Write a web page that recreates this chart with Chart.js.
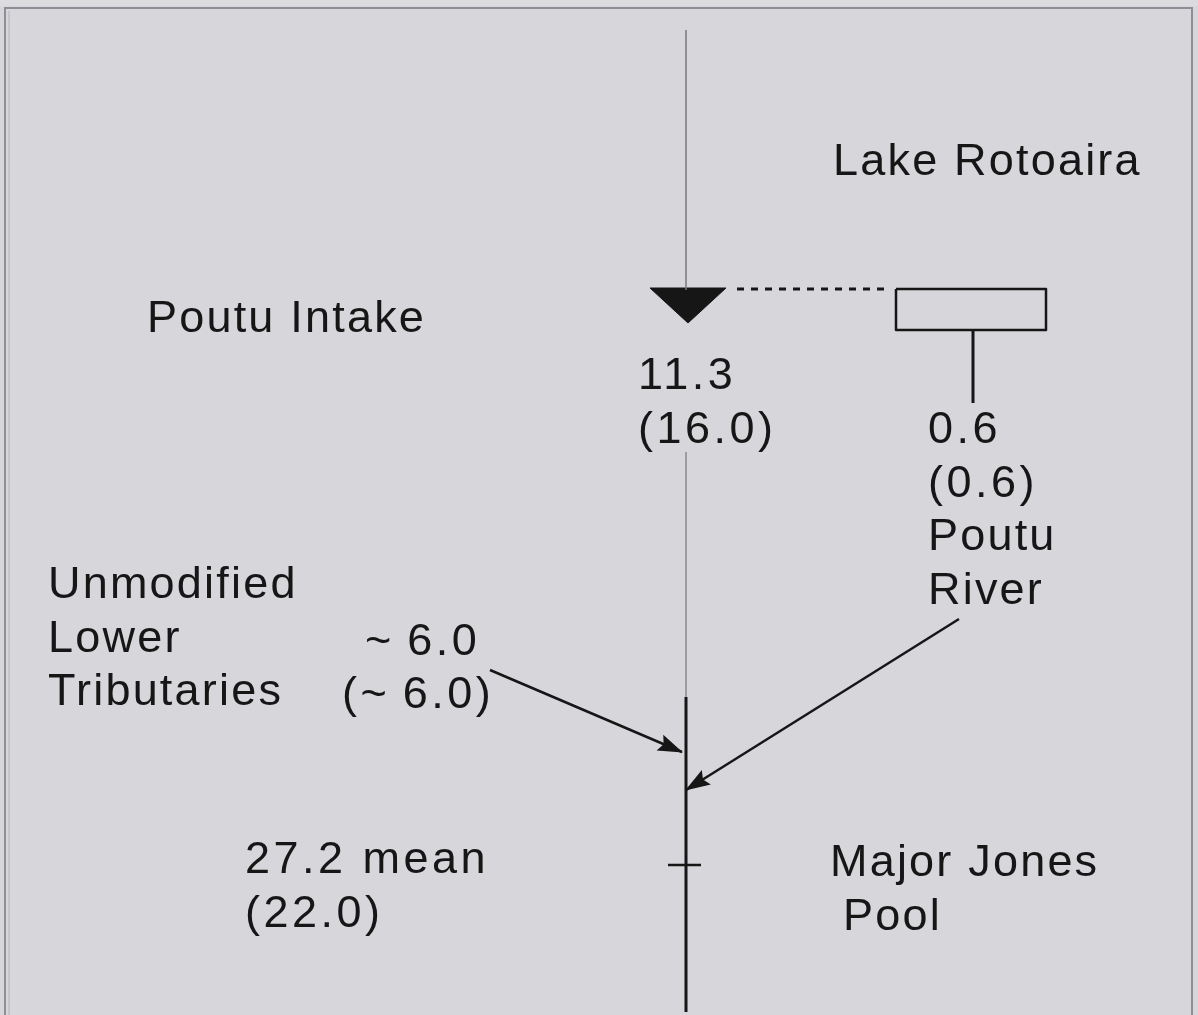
<!DOCTYPE html>
<html>
<head>
<meta charset="utf-8">
<script src="https://cdn.jsdelivr.net/npm/chart.js@4.4.1/dist/chart.umd.min.js"></script>
<style>
  html, body { margin: 0; padding: 0; background: #d7d7db; }
  #wrap { position: relative; width: 1198px; height: 1015px; }
</style>
</head>
<body>
<div id="wrap"><canvas id="c" width="1198" height="1015"></canvas></div>
<script>
// ---------- DATA ----------
const sites = ['Lake Rotoaira', 'Poutu Intake', 'Poutu River', 'Unmodified Lower Tributaries', 'Major Jones Pool'];
const meanFlows = [null, 11.3, 0.6, 6.0, 27.2];      // mean flow
const medianFlows = [null, 16.0, 0.6, 6.0, 22.0];    // value in brackets
const approxFlags = [false, false, false, true, false];
const meanSuffix = ['', '', '', '', ' mean'];

// ---------- LAYOUT (schematic diagram units) ----------
const channelX = 686;
const upperChannel = [{x: channelX, y: 30}, {x: channelX, y: 290}];
const intakeShape = [{x: 650, y: 288}, {x: 726, y: 288}, {x: 688, y: 323}, {x: 650, y: 288}];
const intakeLink = [{x: 737, y: 289}, {x: 886, y: 289}];
const lakeBox = [{x: 896, y: 289}, {x: 1046, y: 289}, {x: 1046, y: 330}, {x: 896, y: 330}, {x: 896, y: 289}];
const lakeOutlet = [{x: 973, y: 330}, {x: 973, y: 403}];
const residualChannel = [{x: channelX, y: 452}, {x: channelX, y: 697}];
const lowerChannel = [{x: channelX, y: 697}, {x: channelX, y: 1012}];
const poolMark = [{x: 668, y: 865}, {x: 701, y: 865}];
const tributaryArrow = [{x: 490, y: 670}, {x: 682, y: 752}];
const riverArrow = [{x: 959, y: 619}, {x: 686, y: 790}];

function fmt(v, approx) { return (approx ? '~\u2009' : '') + v.toFixed(1); }

// text blocks: lines, x, baseline y, numeric (wider tracking)
const textBlocks = [
  {lines: [sites[0]], x: 833, y: 175},
  {lines: [sites[1]], x: 147, y: 332},
  {lines: [fmt(meanFlows[1], approxFlags[1]), '(' + fmt(medianFlows[1], approxFlags[1]) + ')'], x: 638, y: 389, num: true},
  {lines: [fmt(meanFlows[2], approxFlags[2]), '(' + fmt(medianFlows[2], approxFlags[2]) + ')'], x: 928, y: 443, num: true},
  {lines: ['Poutu', 'River'], x: 928, y: 443 + 2 * 53.5},
  {lines: ['Unmodified', 'Lower', 'Tributaries'], x: 48, y: 598},
  {lines: [fmt(meanFlows[3], approxFlags[3])], x: 365, y: 655, num: true},
  {lines: ['(' + fmt(medianFlows[3], approxFlags[3]) + ')'], x: 342, y: 708, num: true},
  {lines: [fmt(meanFlows[4], approxFlags[4]) + meanSuffix[4], '(' + fmt(medianFlows[4], approxFlags[4]) + ')'], x: 245, y: 873, num: true},
  {lines: ['Major Jones'], x: 830, y: 876},
  {lines: ['Pool'], x: 843, y: 930}
];
const lineGap = 53.5;

const ink = '#161616';

function lineDs(data, color, width, extra) {
  return Object.assign({
    data: data, showLine: true, borderColor: color, backgroundColor: color,
    borderWidth: width, pointRadius: 0, pointHoverRadius: 0, fill: false, tension: 0, clip: false
  }, extra || {});
}

const frameAndText = {
  id: 'frameAndText',
  beforeDraw(chart) {
    const ctx = chart.ctx;
    ctx.save();
    ctx.fillStyle = '#d7d7db';
    ctx.fillRect(0, 0, chart.width, chart.height);
    ctx.fillStyle = '#dcdcdf';
    ctx.fillRect(0, 0, chart.width, 6);
    ctx.strokeStyle = '#8e8e94';
    ctx.lineWidth = 2;
    ctx.beginPath();
    ctx.moveTo(5, 1015); ctx.lineTo(5, 8); ctx.lineTo(1192, 8); ctx.lineTo(1192, 1015);
    ctx.stroke();
    ctx.strokeStyle = '#b4b4b9';
    ctx.lineWidth = 1;
    ctx.beginPath();
    ctx.moveTo(9, 1015); ctx.lineTo(9, 11);
    ctx.stroke();
    ctx.restore();
  },
  afterDatasetsDraw(chart) {
    const ctx = chart.ctx;
    const xs = chart.scales.x, ys = chart.scales.y;
    // arrowheads
    chart.data.datasets.forEach((ds, i) => {
      if (!ds.arrow) return;
      const pts = chart.getDatasetMeta(i).data;
      const a = pts[pts.length - 2], b = pts[pts.length - 1];
      const ang = Math.atan2(b.y - a.y, b.x - a.x);
      const L = 24, W = 8.5;
      ctx.save();
      ctx.translate(b.x, b.y);
      ctx.rotate(ang);
      ctx.fillStyle = ink;
      ctx.beginPath();
      ctx.moveTo(1, 0);
      ctx.lineTo(-L, -W);
      ctx.lineTo(-L + 4, 0);
      ctx.lineTo(-L, W);
      ctx.closePath();
      ctx.fill();
      ctx.restore();
    });
    // texts
    ctx.save();
    ctx.fillStyle = ink;
    ctx.font = '45px "Liberation Sans", Arial, sans-serif';
    ctx.textBaseline = 'alphabetic';
    ctx.textAlign = 'left';
    textBlocks.forEach(tb => {
      ctx.letterSpacing = tb.num ? '3.5px' : '2.2px';
      tb.lines.forEach((ln, k) => {
        ctx.fillText(ln, xs.getPixelForValue(tb.x), ys.getPixelForValue(tb.y + k * lineGap));
      });
    });
    ctx.restore();
  }
};

new Chart(document.getElementById('c'), {
  type: 'scatter',
  data: {
    datasets: [
      lineDs(upperChannel, '#7a7a7e', 1.5),
      lineDs(intakeShape, ink, 1, {fill: 'shape', backgroundColor: ink}),
      lineDs(intakeLink, ink, 3, {borderDash: [7, 7]}),
      lineDs(lakeBox, ink, 2.5, {borderJoinStyle: 'round'}),
      lineDs(lakeOutlet, ink, 3),
      lineDs(residualChannel, '#8a8a8f', 1.5),
      lineDs(lowerChannel, ink, 3),
      lineDs(poolMark, ink, 2.5),
      lineDs(tributaryArrow, ink, 2.5, {arrow: true}),
      lineDs(riverArrow, ink, 2.5, {arrow: true})
    ]
  },
  options: {
    responsive: false,
    animation: false,
    layout: {padding: 0},
    plugins: {legend: {display: false}, tooltip: {enabled: false}, title: {display: false}},
    events: [],
    scales: {
      x: {type: 'linear', min: 0, max: 1198, display: false},
      y: {type: 'linear', min: 0, max: 1015, reverse: true, display: false}
    }
  },
  plugins: [frameAndText]
});
</script>
</body>
</html>
